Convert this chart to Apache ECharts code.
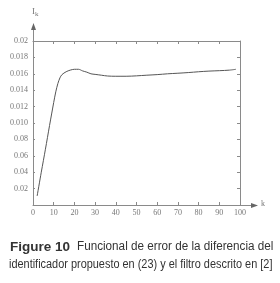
<!DOCTYPE html>
<html><head><meta charset="utf-8">
<script src="https://cdn.jsdelivr.net/npm/echarts@6/dist/echarts.min.js"></script>
<style>html,body{margin:0;padding:0;background:#fff}#c{width:280px;height:283px}</style>
</head><body><div id="c"></div>
<script>
var kValues = [2,4,6,8,10,11,12,13,14,16,18,20,22,24,26,28,30,33,36,40,45,50,55,60,65,70,75,80,85,90,95,98];
var errValues = [0.0011,0.0040,0.0068,0.0097,0.0125,0.0138,0.0148,0.0155,0.0159,0.01625,0.01645,0.01655,0.01655,0.01635,0.0162,0.0160,0.01593,0.01583,0.01573,0.0157,0.0157,0.01575,0.01583,0.0159,0.0160,0.01607,0.01615,0.01625,0.01633,0.01638,0.01645,0.01655];
var xTicks = [0,10,20,30,40,50,60,70,80,90,100];
var yTickLabels = ['', '0.02', '0.04', '0.06', '0.08', '0.010', '0.012', '0.014', '0.016', '0.018', '0.02'];
var captionBold = 'Figure 10';
var captionLine1 = 'Funcional de error de la diferencia del';
var captionLine2 = 'identificador propuesto en (23) y el filtro descrito en [2]';

var axisColor = '#8a8a8a';
var labelFont = {fontFamily: 'Liberation Serif', fontSize: 8, color: '#777'};
var chart = echarts.init(document.getElementById('c'), null, {renderer: 'canvas'});
var pts = kValues.map(function(k, i){ return [k, errValues[i]]; });
chart.setOption({
  animation: false,
  grid: {left: 33, top: 41, right: 40, bottom: 78, show: false},
  xAxis: [{
    type: 'value', min: 0, max: 100, interval: 10, position: 'bottom',
    axisLine: {show: true, lineStyle: {color: axisColor, width: 1}},
    axisTick: {show: true, inside: true, length: 3, lineStyle: {color: axisColor}},
    axisLabel: Object.assign({margin: 4, formatter: function(v){ return xTicks.indexOf(v) >= 0 ? String(v) : ''; }}, labelFont),
    splitLine: {show: false}
  }, {
    type: 'value', min: 0, max: 100, interval: 10, position: 'top',
    axisLine: {show: true, onZero: false, lineStyle: {color: axisColor, width: 1}},
    axisTick: {show: true, inside: true, length: 3, lineStyle: {color: axisColor}},
    axisLabel: {show: false}, splitLine: {show: false}
  }],
  yAxis: [{
    type: 'value', min: 0, max: 0.02, interval: 0.002, position: 'left',
    axisLine: {show: true, lineStyle: {color: axisColor, width: 1}},
    axisTick: {show: true, inside: true, length: 2, lineStyle: {color: axisColor}},
    axisLabel: Object.assign({margin: 5, formatter: function(v){ return yTickLabels[Math.round(v / 0.002)] || ''; }}, labelFont),
    splitLine: {show: false}
  }, {
    type: 'value', min: 0, max: 0.02, interval: 0.002, position: 'right',
    axisLine: {show: true, onZero: false, lineStyle: {color: axisColor, width: 1}},
    axisTick: {show: true, inside: true, length: 3, lineStyle: {color: axisColor}},
    axisLabel: {show: false}, splitLine: {show: false}
  }],
  series: [{
    type: 'line', xAxisIndex: 0, yAxisIndex: 0, data: pts, smooth: 0.3,
    showSymbol: false, lineStyle: {color: '#555', width: 1}
  }],
  graphic: [
    {type: 'line', shape: {x1: 33.5, y1: 41, x2: 33.5, y2: 27}, style: {stroke: axisColor, lineWidth: 1}},
    {type: 'polygon', shape: {points: [[33.5, 23], [31, 30], [36, 30]]}, style: {fill: '#666'}},
    {type: 'line', shape: {x1: 240, y1: 205.5, x2: 254, y2: 205.5}, style: {stroke: axisColor, lineWidth: 1}},
    {type: 'polygon', shape: {points: [[258, 205.5], [251, 203], [251, 208]]}, style: {fill: '#666'}},
    {type: 'text', left: 32, top: 7, style: {text: '{i|I}{s|k}', rich: {i: {fontFamily: 'Liberation Serif', fontSize: 9, fill: '#777'}, s: {fontFamily: 'Liberation Serif', fontSize: 7, fill: '#777', verticalAlign: 'bottom', padding: [6, 0, 0, 0]}}}},
    {type: 'text', left: 261, top: 200, style: {text: 'k', fontFamily: 'Liberation Serif', fontSize: 8, fill: '#777'}},
    {type: 'text', x: 10, y: 240, style: {text: captionBold, fontFamily: 'Liberation Sans', fontWeight: 'bold', fontSize: 13.5, fill: '#333', verticalAlign: 'top', align: 'left'}},
    {type: 'text', x: 77, y: 241, scaleX: 0.975, style: {text: captionLine1, fontFamily: 'Liberation Sans', fontSize: 12, fill: '#333', verticalAlign: 'top', align: 'left'}},
    {type: 'text', x: 9, y: 259, scaleX: 0.91, style: {text: captionLine2, fontFamily: 'Liberation Sans', fontSize: 12, fill: '#333', verticalAlign: 'top', align: 'left'}}
  ]
});
</script></body></html>
